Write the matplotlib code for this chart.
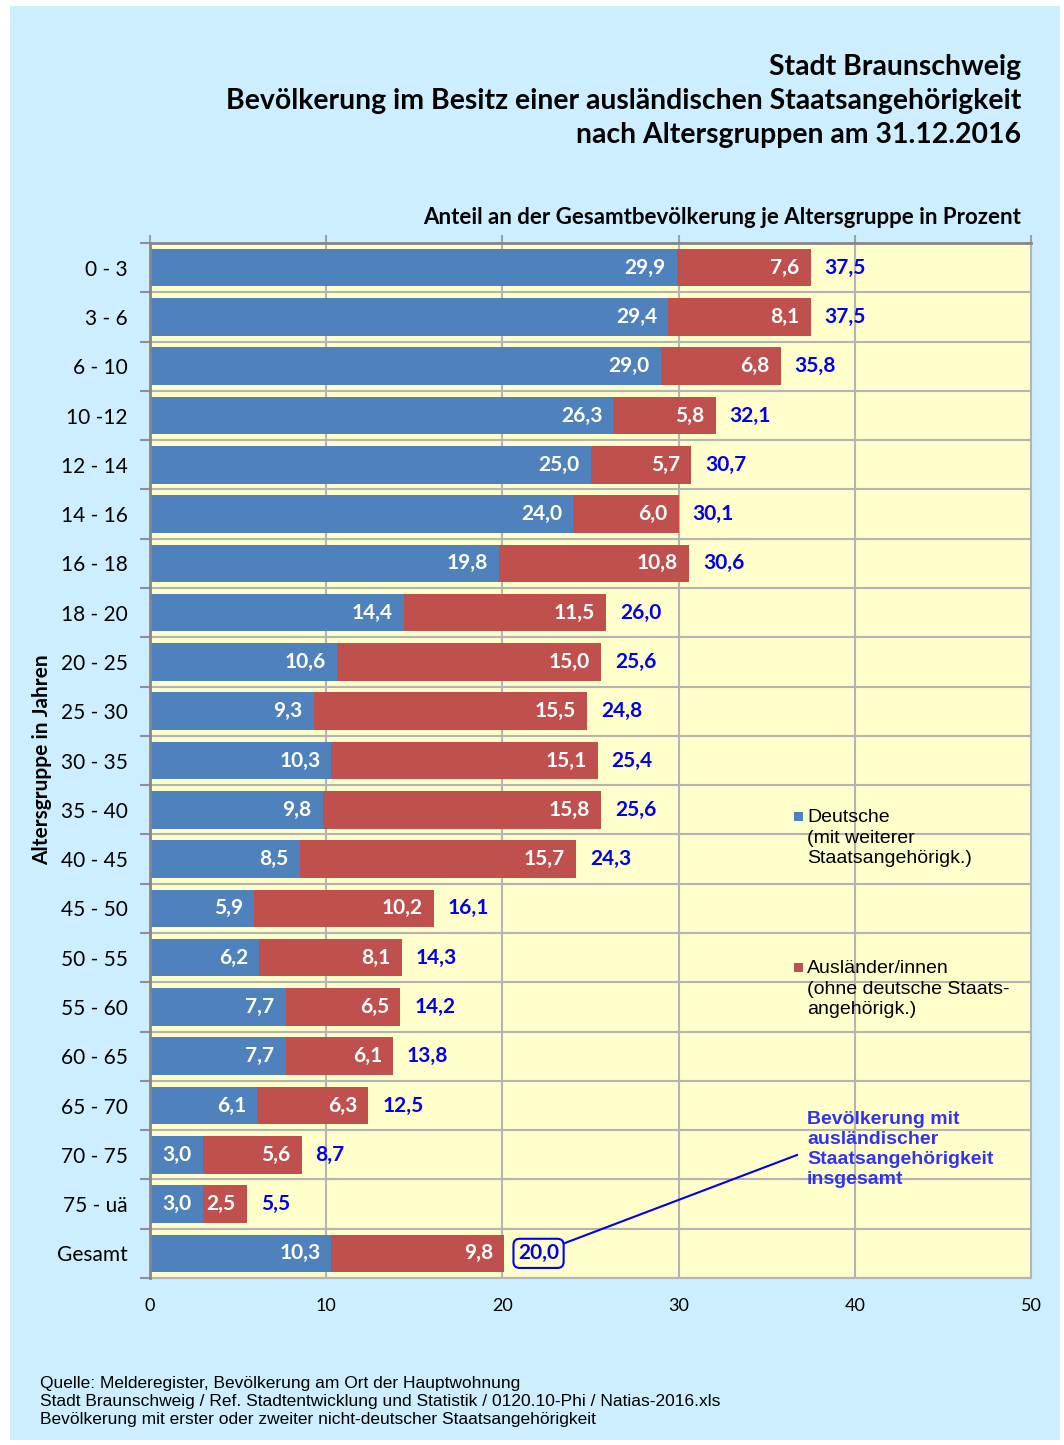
import numpy as np
import matplotlib.pyplot as plt
from matplotlib.lines import Line2D
from matplotlib.patches import Rectangle

# data
groups = ['0 - 3', '3 - 6', '6 - 10', '10 -12', '12 - 14', '14 - 16', '16 - 18',
          '18 - 20', '20 - 25', '25 - 30', '30 - 35', '35 - 40', '40 - 45',
          '45 - 50', '50 - 55', '55 - 60', '60 - 65', '65 - 70', '70 - 75',
          '75 - uä', 'Gesamt']
deutsche = [29.9, 29.4, 29.0, 26.3, 25.0, 24.0, 19.8, 14.4, 10.6, 9.3, 10.3,
            9.8, 8.5, 5.9, 6.2, 7.7, 7.7, 6.1, 3.0, 3.0, 10.3]
auslaender = [7.6, 8.1, 6.8, 5.8, 5.7, 6.0, 10.8, 11.5, 15.0, 15.5, 15.1,
              15.8, 15.7, 10.2, 8.1, 6.5, 6.1, 6.3, 5.6, 2.5, 9.8]
gesamt = [37.5, 37.5, 35.8, 32.1, 30.7, 30.1, 30.6, 26.0, 25.6, 24.8, 25.4,
          25.6, 24.3, 16.1, 14.3, 14.2, 13.8, 12.5, 8.7, 5.5, 20.0]
x_ticks = [0, 10, 20, 30, 40, 50]

W, H = 1064, 1445
CAL = ['Lato', 'DejaVu Sans']
ARIAL = ['Liberation Sans', 'DejaVu Sans']
BLUE = '#4f81bd'
RED = '#c0504d'
PANEL = '#cceeff'


def px(x, y):
    '''Pixel -> Figure-Koordinaten'''
    return x / W, 1 - y / H


def fmt(v):
    return f'{v:.1f}'.replace('.', ',')


fig = plt.figure(figsize=(W / 100, H / 100), dpi=100, facecolor='white')
fig.patches.append(Rectangle(px(10, 1440), 1050 / W, 1434 / H,
                             transform=fig.transFigure, facecolor=PANEL,
                             edgecolor='none', zorder=-10))

l, t = px(150, 243)
r, b = px(1031, 1278)
ax = fig.add_axes([l, b, r - l, t - b])
ax.set_facecolor('#ffffcc')

y = np.arange(len(groups))
ax.barh(y, deutsche, height=0.76, color=BLUE, zorder=3)
ax.barh(y, auslaender, left=deutsche, height=0.76, color=RED, zorder=3)

lab_kw = dict(family=CAL, fontsize=15, fontweight='bold', va='center', zorder=5)
for i in range(len(groups)):
    ax.annotate(fmt(deutsche[i]), (deutsche[i], i), xytext=(-8, 0),
                textcoords='offset points', ha='right', color='white', **lab_kw)
    end = deutsche[i] + auslaender[i]
    ax.annotate(fmt(auslaender[i]), (end, i), xytext=(-8, 0),
                textcoords='offset points', ha='right', color='white', **lab_kw)
    if groups[i] == 'Gesamt':
        ax.annotate(fmt(gesamt[i]), (end, i), xytext=(10, 0),
                    textcoords='offset points', ha='left', color='#0000ee',
                    bbox=dict(boxstyle='round,pad=0.22,rounding_size=0.3',
                              fc='none', ec='#0000ee', lw=1.5), **lab_kw)
    else:
        ax.annotate(fmt(gesamt[i]), (end, i), xytext=(10, 0),
                    textcoords='offset points', ha='left', color='#0000ee', **lab_kw)

ax.set_xlim(0, 50)
ax.set_ylim(len(groups) - 0.5, -0.5)
ax.set_xticks(x_ticks)
ax.set_yticks(y)
ax.set_yticklabels(groups, family=CAL, fontsize=15)
ax.set_yticks(np.arange(len(groups) + 1) - 0.5, minor=True)
ax.set_xticklabels([str(v) for v in x_ticks], family=CAL, fontsize=13)

ax.xaxis.set_ticks_position('top')
ax.tick_params(axis='x', which='major', top=True, bottom=False, labeltop=False,
               labelbottom=True, length=6, width=1.5, color='#a0a0a0', pad=8.5)
ax.tick_params(axis='y', which='major', length=0, pad=16)
ax.tick_params(axis='y', which='minor', length=7, width=1.5, color='#909090')
ax.grid(axis='x', color='#b4b4b4', lw=1.5, zorder=1)
ax.grid(axis='y', which='minor', color='#b4b4b4', lw=1.5, zorder=1)
for s in ['top', 'left']:
    ax.spines[s].set_color('#868686')
    ax.spines[s].set_linewidth(2)
    ax.spines[s].set_zorder(4)
for s in ['bottom', 'right']:
    ax.spines[s].set_color('#b4b4b4')
    ax.spines[s].set_linewidth(1.5)

fig.text(*px(42, 760), 'Altersgruppe in Jahren', family=CAL, fontsize=15,
         fontweight='bold', rotation=90, ha='center', va='center')

# Titel
for txt, yy in [('Stadt Braunschweig', 67),
                ('Bevölkerung im Besitz einer ausländischen Staatsangehörigkeit', 101),
                ('nach Altersgruppen am 31.12.2016', 135)]:
    fig.text(*px(1021, yy), txt, family=CAL, fontsize=20.4, fontweight='bold',
             ha='right', va='center')
fig.text(*px(1021, 217), 'Anteil an der Gesamtbevölkerung je Altersgruppe in Prozent',
         family=CAL, fontsize=16, fontweight='bold', ha='right', va='center')

# Legende
for txt, col, yy in [('Deutsche\n(mit weiterer\nStaatsangehörigk.)', BLUE, 809),
                     ('Ausländer/innen\n(ohne deutsche Staats-\nangehörigk.)', RED, 960)]:
    fig.patches.append(Rectangle(px(794, yy + 12), 9 / W, 9 / H,
                                 transform=fig.transFigure, facecolor=col,
                                 edgecolor='none', zorder=5))
    fig.text(*px(807, yy), txt, family=ARIAL, fontsize=14, ha='left', va='top',
             linespacing=1.27, zorder=5)

fig.text(*px(807, 1111), 'Bevölkerung mit\nausländischer\nStaatsangehörigkeit\ninsgesamt',
         family=ARIAL, fontsize=14, fontweight='bold', color='#3333ee',
         ha='left', va='top', linespacing=1.24)
fig.lines.append(Line2D([565 / W, 797 / W], [1 - 1243 / H, 1 - 1155 / H],
                        transform=fig.transFigure, color='#0000ee', lw=1.5))

fig.text(*px(40, 1376), 'Quelle: Melderegister, Bevölkerung am Ort der Hauptwohnung\n'
         'Stadt Braunschweig / Ref. Stadtentwicklung und Statistik / 0120.10-Phi / Natias-2016.xls\n'
         'Bevölkerung mit erster oder zweiter nicht-deutscher Staatsangehörigkeit',
         family=ARIAL, fontsize=12.5, ha='left', va='top', linespacing=1.26)

fig.savefig('out.png', dpi=100, facecolor='white')
